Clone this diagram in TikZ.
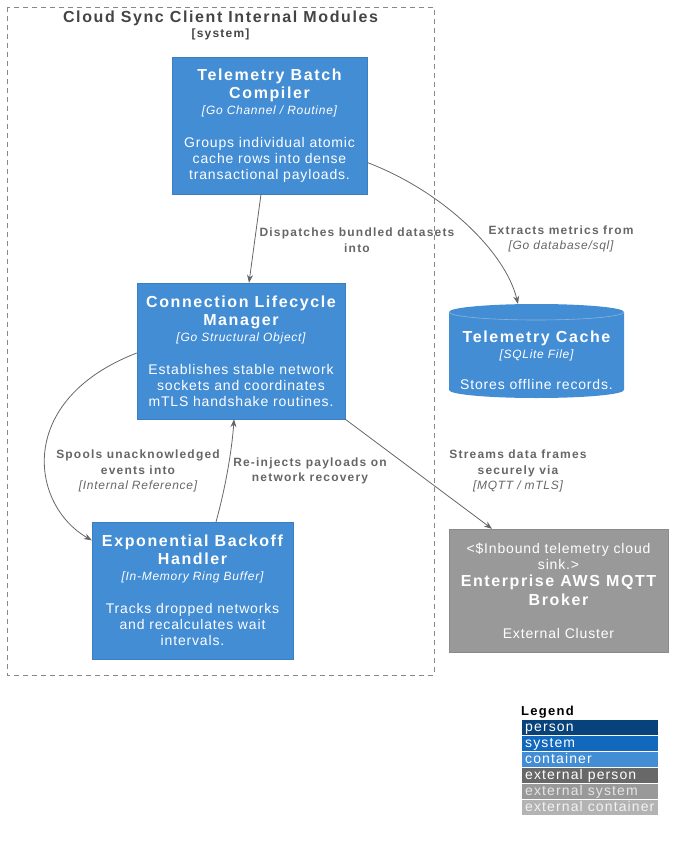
\documentclass[tikz,border=0pt]{standalone}
\usepackage{fontspec}
\setmainfont{Liberation Sans}
\newfontfamily\boldtrack[LetterSpace=10]{Liberation Sans}
\newfontfamily\plaintrack[LetterSpace=6]{Liberation Sans}
\newfontfamily\legendtrack[LetterSpace=8]{Liberation Sans}
\usepackage{tikz}
\usetikzlibrary{arrows.meta,positioning,calc}
\definecolor{containerblue}{HTML}{438DD5}
\definecolor{containerborder}{HTML}{3C7FC0}
\definecolor{extsystemgray}{HTML}{999999}
\definecolor{extsystemborder}{HTML}{8A8A8A}
\definecolor{relgray}{HTML}{666666}
\definecolor{boundarygray}{HTML}{888888}
\definecolor{titlegray}{HTML}{444444}
\definecolor{personblue}{HTML}{08427B}
\definecolor{systemblue}{HTML}{1168BD}
\definecolor{extperson}{HTML}{686868}
\definecolor{extcontainer}{HTML}{B3B3B3}
\newcommand{\ttlfont}{\boldtrack\bfseries\fontsize{16}{18}\selectfont}
\newcommand{\techfont}{\plaintrack\mdseries\itshape\fontsize{12}{16}\selectfont}
\newcommand{\descfont}{\plaintrack\mdseries\upshape\fontsize{14}{16}\selectfont}
\newcommand{\relfont}{\boldtrack\bfseries\fontsize{12}{14}\selectfont}
\newcommand{\reltechfont}{\plaintrack\mdseries\itshape\fontsize{12}{14}\selectfont}
\newcommand{\legendfont}{\legendtrack\fontsize{14}{16}\selectfont}

\begin{document}
\begin{tikzpicture}[
    x=1pt, y=-1pt,
    container/.style={rectangle, fill=containerblue, draw=containerborder, text=white, align=center, inner sep=0pt, font=\descfont},
    extsystem/.style={rectangle, fill=extsystemgray, draw=extsystemborder, text=white, align=center, inner sep=0pt, font=\descfont},
    rel/.style={draw=relgray, line width=0.8pt, -{Stealth[length=8pt,width=6pt]}},
    rellabel/.style={text=relgray, align=center, font=\relfont, inner sep=0pt},
    legendrow/.style={rectangle, draw=white, line width=0.5pt, minimum width=137pt, minimum height=16pt, inner sep=0pt},
    legendtext/.style={anchor=base west, inner sep=0pt, text=white, font=\legendfont}
]
\useasboundingbox (0,0) rectangle (681,842);

% System boundary
\draw[boundarygray, line width=0.8pt, dash pattern=on 5pt off 4pt] (7,7) rectangle (434,675);
\node[text=titlegray, font=\ttlfont] (systitle) at (220.5,18) {Cloud Sync Client Internal Modules};
\node[text=titlegray, font=\relfont] (systag) at (220.5,34) {[system]};

% Containers
\node[container, minimum width=195pt, minimum height=137pt] (batch) at (269.5,125.5)
    {\ttlfont Telemetry Batch\\[2pt]\ttlfont Compiler\\\techfont [Go Channel / Routine]\\[17pt]\descfont Groups individual atomic\\\descfont cache rows into dense\\\descfont transactional payloads.};
\node[container, minimum width=208pt, minimum height=136pt] (manager) at (241,351)
    {\ttlfont Connection Lifecycle\\[2pt]\ttlfont Manager\\\techfont [Go Structural Object]\\[17pt]\descfont Establishes stable network\\\descfont sockets and coordinates\\\descfont mTLS handshake routines.};
\node[container, minimum width=201pt, minimum height=137pt] (backoff) at (192.5,590.5)
    {\ttlfont Exponential Backoff\\[2pt]\ttlfont Handler\\\techfont [In-Memory Ring Buffer]\\[17pt]\descfont Tracks dropped networks\\\descfont and recalculates wait\\\descfont intervals.};

% Database
\fill[containerblue] (449,312) arc[start angle=180, end angle=360, x radius=87.5, y radius=8]
    -- (624,390) arc[start angle=0, end angle=180, x radius=87.5, y radius=8] -- cycle;
\draw[containerborder!60!white, line width=0.6pt] (449,312) arc[start angle=180, end angle=0, x radius=87.5, y radius=8];
\coordinate (cachetop) at (518,304);
\node[text=white, align=center, inner sep=0pt, font=\descfont] (cache) at (536.5,360)
    {\ttlfont Telemetry Cache\\\techfont [SQLite File]\\[15pt]\descfont Stores offline records.};

% External system
\node[extsystem, minimum width=219pt, minimum height=123pt] (broker) at (558.5,590.5)
    {\descfont <\$Inbound telemetry cloud\\\descfont sink.>\\[1pt]\ttlfont Enterprise AWS MQTT\\[3pt]\ttlfont Broker\\[17pt]\descfont External Cluster};

% Relations
\draw[rel] ([xshift=-8.5pt]batch.south) -- ([xshift=8pt]manager.north);
\draw[rel] ([yshift=-37pt]batch.east) .. controls (440,190) and (505,250) .. (cachetop);
\draw[rel] ([yshift=-2pt]manager.west) .. controls (15,400) and (30,505) .. ([yshift=-18.5pt]backoff.north west);
\draw[rel] ([xshift=23.5pt]backoff.north) .. controls (225,490) and (232,450) .. ([xshift=-7pt]manager.south);
\draw[rel] (manager.south east) -- ([xshift=-66.5pt]broker.north);

\node[rellabel] (lbdispatch) at (357,240) {Dispatches bundled datasets\\[1.5pt]into};
\node[rellabel] (lbextract) at (561,239) {Extracts metrics from\\[1.5pt]\reltechfont [Go database/sql]};
\node[rellabel] (lbspool) at (138,471) {Spools unacknowledged\\[1.5pt]events into\\[1.5pt]\reltechfont [Internal Reference]};
\node[rellabel] (lbreinject) at (310,471) {Re-injects payloads on\\[1.5pt]network recovery};
\node[rellabel] (lbstream) at (518,471) {Streams data frames\\[1.5pt]securely via\\[1.5pt]\reltechfont [MQTT / mTLS]};

% Legend
\node[anchor=base west, inner sep=0pt, font=\boldtrack\bfseries\fontsize{13}{15}\selectfont] (legend) at (521,715) {Legend};
\node[legendrow, fill=personblue, anchor=north west] (lgperson) at (521,719) {};
\node[legendtext] at ([xshift=4pt,yshift=-4.5pt]lgperson.west) {person};
\node[legendrow, fill=systemblue, anchor=north west] (lgsystem) at (521,735) {};
\node[legendtext] at ([xshift=4pt,yshift=-4.5pt]lgsystem.west) {system};
\node[legendrow, fill=containerblue, anchor=north west] (lgcontainer) at (521,751) {};
\node[legendtext] at ([xshift=4pt,yshift=-4.5pt]lgcontainer.west) {container};
\node[legendrow, fill=extperson, anchor=north west] (lgextperson) at (521,767) {};
\node[legendtext] at ([xshift=4pt,yshift=-4.5pt]lgextperson.west) {external person};
\node[legendrow, fill=extsystemgray, anchor=north west] (lgextsystem) at (521,783) {};
\node[legendtext, text=white!90!black] at ([xshift=4pt,yshift=-4.5pt]lgextsystem.west) {external system};
\node[legendrow, fill=extcontainer, anchor=north west] (lgextcontainer) at (521,799) {};
\node[legendtext, text=white!95!black] at ([xshift=4pt,yshift=-4.5pt]lgextcontainer.west) {external container};
\end{tikzpicture}
\end{document}
